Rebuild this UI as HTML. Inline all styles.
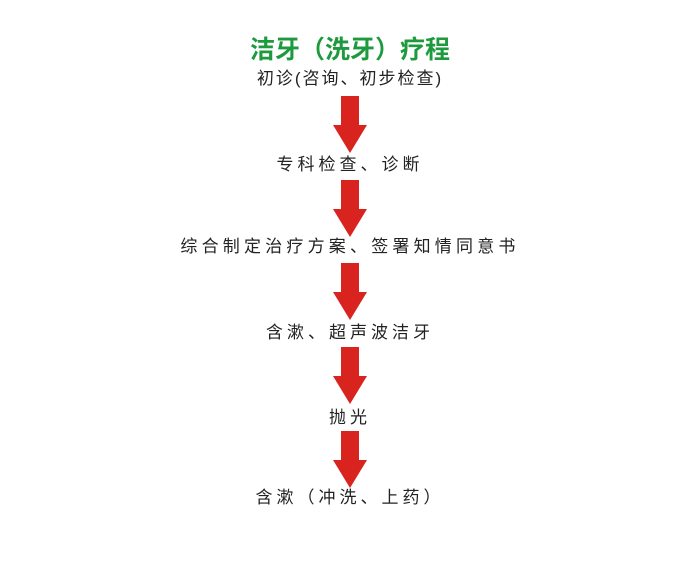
<!DOCTYPE html>
<html><head><meta charset="utf-8"><style>
body{margin:0;width:700px;height:585px;background:#fff;position:relative;overflow:hidden;font-family:"Liberation Sans","Noto Sans CJK SC",sans-serif;color:#222}
.t{position:absolute;left:0;width:700px;text-align:center;font-size:17px;letter-spacing:4px;line-height:20px;white-space:nowrap}
.title{position:absolute;left:0;width:700px;text-align:center;font-size:25px;font-weight:bold;color:#1e9a3e;line-height:28px;white-space:nowrap}
svg{position:absolute;left:0;top:0}
</style></head><body>
<div class="title" style="top:36px">洁牙（洗牙）疗程</div>
<div class="t" style="top:69px;letter-spacing:2px">初诊(咨询、初步检查)</div>
<div class="t" style="top:155px">专科检查、诊断</div>
<div class="t" style="top:237px;letter-spacing:4.2px">综合制定治疗方案、签署知情同意书</div>
<div class="t" style="top:323px">含漱、超声波洁牙</div>
<div class="t" style="top:408px">抛光</div>
<div class="t" style="top:488px">含漱（冲洗、上药）</div>
<svg width="700" height="585">
<g fill="#d9231f">
<polygon points="341,96 359,96 359,125 367,125 350,153 333,125 341,125"/>
<polygon points="341,180 359,180 359,209 367,209 350,237 333,209 341,209"/>
<polygon points="341,263 359,263 359,292 367,292 350,320 333,292 341,292"/>
<polygon points="341,347 359,347 359,376 367,376 350,404 333,376 341,376"/>
<polygon points="341,431 359,431 359,460 367,460 350,488 333,460 341,460"/>
</g></svg>
</body></html>
